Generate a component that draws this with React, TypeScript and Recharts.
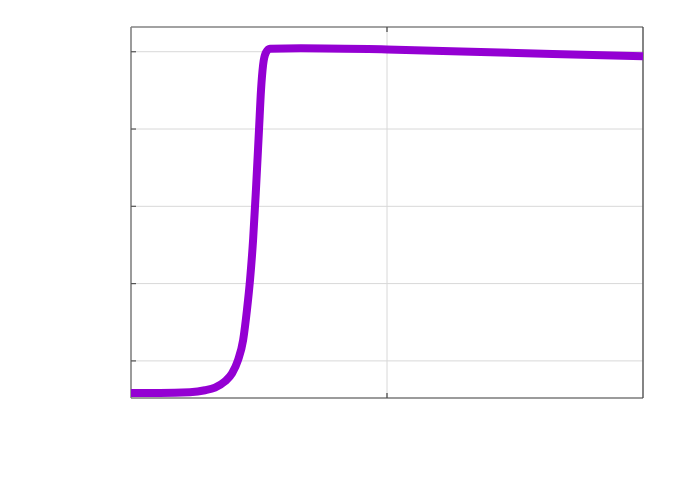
import React from "react";
import { LineChart, Line, XAxis, YAxis, CartesianGrid, ReferenceLine } from "recharts";

const xValues = [0, 0.113, 0.23, 0.289, 0.328, 0.367, 0.395, 0.418, 0.438, 0.453, 0.465, 0.477, 0.488, 0.5, 0.508, 0.516, 0.527, 0.543, 0.664, 1.0, 1.441, 2.0];
const yValues = [-0.415, -0.415, -0.405, -0.38, -0.345, -0.265, -0.16, 0.01, 0.27, 0.66, 1.05, 1.57, 2.21, 2.99, 3.51, 3.83, 3.99, 4.04, 4.045, 4.03, 3.99, 3.94];
const xTicks = [1];
const yTicks = [0, 1, 2, 3, 4];

const X_MIN = 0;
const X_MAX = 2;
const Y_MIN = -0.48;
const Y_MAX = 4.32;
const TICK_X = 0.0195;
const TICK_Y = 0.065;

const data = xValues.map((x, i) => ({ x, y: yValues[i] }));

const EmptyTick = () => <g />;

export default function App() {
  return (
    <div style={{ position: "absolute", left: 0, top: 0, width: 692, height: 485, background: "#fff" }}>
      <LineChart width={692} height={485} data={data} margin={{ top: 27, right: 49, bottom: 87, left: 131 }}>
        <CartesianGrid stroke="#d8d8d8" strokeWidth={1} />
        <XAxis
          dataKey="x"
          type="number"
          domain={[X_MIN, X_MAX]}
          ticks={xTicks}
          tick={EmptyTick}
          tickLine={false}
          axisLine={false}
          height={0}
        />
        <YAxis
          type="number"
          domain={[Y_MIN, Y_MAX]}
          ticks={yTicks}
          tick={EmptyTick}
          tickLine={false}
          axisLine={false}
          width={0}
          allowDataOverflow
        />
        <ReferenceLine y={Y_MAX} stroke="#8a8a8a" strokeWidth={1.5} />
        <ReferenceLine y={Y_MIN} stroke="#808080" strokeWidth={1.5} />
        <ReferenceLine x={X_MIN} stroke="#808080" strokeWidth={1.5} />
        <ReferenceLine x={X_MAX} stroke="#404040" strokeWidth={1.2} />
        {yTicks.map((v) => (
          <ReferenceLine key={"yt" + v} segment={[{ x: X_MIN, y: v }, { x: X_MIN + TICK_X, y: v }]} stroke="#555" strokeWidth={1.2} />
        ))}
        {xTicks.map((v) => (
          <ReferenceLine key={"xb" + v} segment={[{ x: v, y: Y_MIN }, { x: v, y: Y_MIN + TICK_Y }]} stroke="#444" strokeWidth={1.2} />
        ))}
        {xTicks.map((v) => (
          <ReferenceLine key={"xt" + v} segment={[{ x: v, y: Y_MAX }, { x: v, y: Y_MAX - TICK_Y }]} stroke="#444" strokeWidth={1.2} />
        ))}
        <Line type="monotone" dataKey="y" stroke="#9400d3" strokeWidth={8} dot={false} isAnimationActive={false} />
      </LineChart>
    </div>
  );
}
